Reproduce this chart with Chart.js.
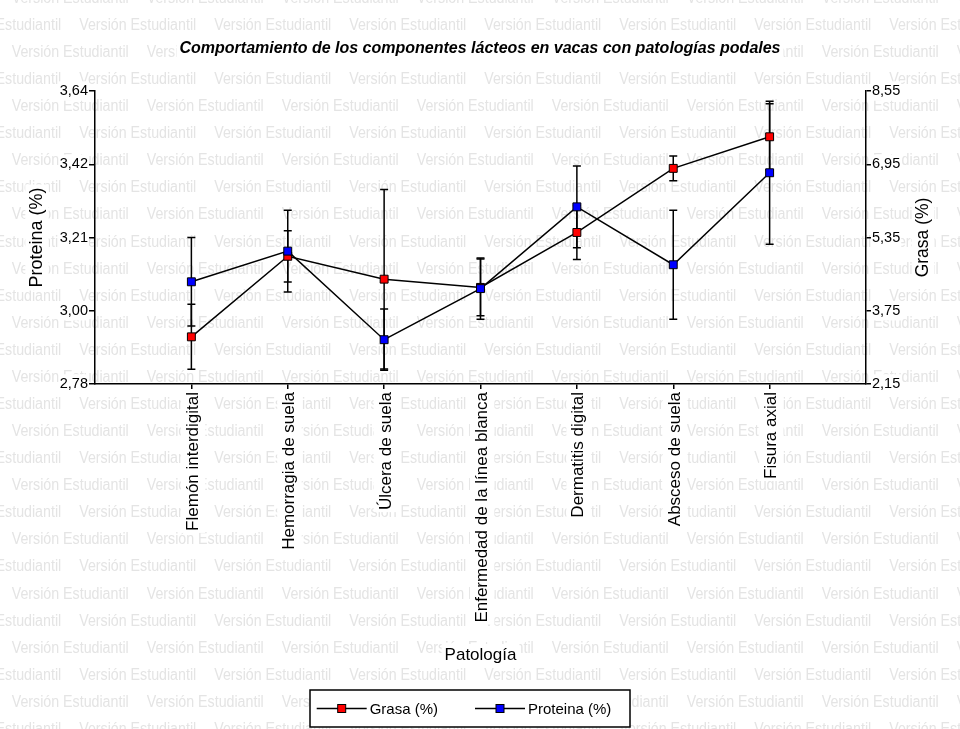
<!DOCTYPE html>
<html lang="es">
<head>
<meta charset="utf-8">
<title>Componentes lácteos en vacas con patologías podales</title>
<script src="https://cdn.jsdelivr.net/npm/chart.js@4.4.1/dist/chart.umd.min.js"></script>
<style>
  html, body { margin: 0; padding: 0; background: #fff; }
  #wrap { width: 960px; height: 729px; position: relative; }
</style>
</head>
<body>
<div id="wrap"><canvas id="chart"></canvas></div>
<script>
// Pathologies on the x axis
const categories = [
  'Flemón interdigital',
  'Hemorragia de suela',
  'Úlcera de suela',
  'Enfermedad de la línea blanca',
  'Dermatitis digital',
  'Absceso de suela',
  'Fisura axial'
];

// Milk fat (%) – mean and error, right axis
const grasa      = [3.18, 4.94, 4.44, 4.26, 5.46, 6.86, 7.55];
const grasaError = [0.71, 0.56, 1.96, 0.62, 0.59, 0.27, 0.72];

// Milk protein (%) – mean and error, left axis
const proteina      = [3.08, 3.17, 2.91, 3.06, 3.30, 3.13, 3.40];
const proteinaError = [0.13, 0.12, 0.09, 0.09, 0.12, 0.16, 0.21];

// Axis tick labels (evenly spaced between first and last)
const proteinaTicks = ['2,78', '3,00', '3,21', '3,42', '3,64'];
const grasaTicks    = ['2,15', '3,75', '5,35', '6,95', '8,55'];

const FONT = '"Liberation Sans", Arial, Helvetica, sans-serif';

const num = s => parseFloat(s.replace(',', '.'));
function evenTicks(labels) {
  const lo = num(labels[0]), hi = num(labels[labels.length - 1]);
  const n = labels.length - 1;
  return labels.map((_, i) => lo + (hi - lo) * i / n);
}
const proteinaTickValues = evenTicks(proteinaTicks);
const grasaTickValues = evenTicks(grasaTicks);

// Background "Versión Estudiantil" pattern plus white boxes behind captions
const backgroundPlugin = {
  id: 'backgroundPattern',
  beforeDraw(chart) {
    const { ctx, width, height, chartArea } = chart;
    ctx.save();
    ctx.fillStyle = '#fff';
    ctx.fillRect(0, 0, width, height);

    // narrow light-grey repeated text
    const text = 'Versión Estudiantil';
    ctx.font = '16px ' + FONT;
    const squeeze = 117 / ctx.measureText(text).width;
    ctx.fillStyle = '#e4e4e4';
    ctx.textBaseline = 'middle';
    ctx.textAlign = 'left';
    const rowGap = 27.08, colGap = 135;
    for (let k = -4; k <= 24; k++) {
      const y = 106.7 + rowGap * k;
      const shift = (Math.abs(k) % 2 === 0) ? 11.7 : 11.7 - colGap / 2;
      for (let m = -1; m <= 8; m++) {
        ctx.save();
        ctx.translate(shift + colGap * m, y);
        ctx.scale(squeeze, 1);
        ctx.fillText(text, 0, 0);
        ctx.restore();
      }
    }

    // white backdrop behind the chart title
    const tb = chart.titleBlock;
    if (tb && tb.options.display) {
      const f = Chart.helpers.toFont(tb.options.font);
      ctx.font = f.string;
      const w = ctx.measureText(tb.options.text).width;
      const cx = (tb.left + tb.right) / 2;
      const cy = tb.top + tb.options.padding.top + f.lineHeight / 2;
      ctx.fillStyle = '#fff';
      ctx.fillRect(cx - w / 2 - 3, cy - f.size / 2 - 3, w + 6, f.size + 6);
    }

    // axis captions
    const caption = (txt, x, y, rot, size) => {
      ctx.save();
      ctx.translate(x, y);
      ctx.rotate(rot);
      ctx.font = size + 'px ' + FONT;
      const w = ctx.measureText(txt).width;
      ctx.fillStyle = '#fff';
      ctx.fillRect(-w / 2 - 3, -size * 0.65, w + 6, size * 1.3);
      ctx.fillStyle = '#000';
      ctx.textAlign = 'center';
      ctx.textBaseline = 'middle';
      ctx.fillText(txt, 0, 0);
      ctx.restore();
    };
    const midY = (chartArea.top + chartArea.bottom) / 2;
    const midX = (chartArea.left + chartArea.right) / 2;
    caption('Proteina (%)', chartArea.left - 58, midY, -Math.PI / 2, 18);
    caption('Grasa (%)', chartArea.right + 57, midY, -Math.PI / 2, 17.5);
    caption('Patología', midX, chartArea.bottom + 271, 0, 17);
    ctx.restore();
  }
};

// Symmetric error bars with caps, drawn under the lines and markers
const errorBarPlugin = {
  id: 'errorBars',
  beforeDatasetsDraw(chart) {
    const { ctx } = chart;
    const xs = chart.scales.x;
    ctx.save();
    ctx.strokeStyle = '#000';
    ctx.lineWidth = 1.5;
    chart.data.datasets.forEach(ds => {
      const ys = chart.scales[ds.yAxisID];
      ds.data.forEach((pt, i) => {
        const x = xs.getPixelForValue(pt.x);
        const yt = ys.getPixelForValue(pt.y + ds.errors[i]);
        const yb = ys.getPixelForValue(pt.y - ds.errors[i]);
        ctx.beginPath();
        ctx.moveTo(x, yt); ctx.lineTo(x, yb);
        ctx.moveTo(x - 4, yt); ctx.lineTo(x + 4, yt);
        ctx.moveTo(x - 4, yb); ctx.lineTo(x + 4, yb);
        ctx.stroke();
      });
    });
    ctx.restore();
  }
};

// Boxed legend: line with square marker, then label
const legendPlugin = {
  id: 'boxLegend',
  afterDraw(chart) {
    const { ctx } = chart;
    const box = { x: 310, y: 690, w: 320, h: 37 };
    ctx.save();
    ctx.fillStyle = '#fff';
    ctx.fillRect(box.x, box.y, box.w, box.h);
    ctx.strokeStyle = '#000';
    ctx.lineWidth = 1.5;
    ctx.strokeRect(box.x, box.y, box.w, box.h);
    const cy = box.y + box.h / 2;
    const starts = [box.x + 6.7, box.x + 165];
    ctx.font = '15px ' + FONT;
    ctx.textBaseline = 'middle';
    ctx.textAlign = 'left';
    chart.data.datasets.forEach((ds, i) => {
      const x0 = starts[i];
      ctx.strokeStyle = '#000';
      ctx.lineWidth = 1.5;
      ctx.beginPath();
      ctx.moveTo(x0, cy); ctx.lineTo(x0 + 50, cy);
      ctx.stroke();
      ctx.fillStyle = ds.pointBackgroundColor;
      ctx.fillRect(x0 + 21, cy - 4, 8, 8);
      ctx.lineWidth = 1;
      ctx.strokeRect(x0 + 21, cy - 4, 8, 8);
      ctx.fillStyle = '#000';
      ctx.fillText(ds.label, x0 + 53, cy + 1);
    });
    ctx.restore();
  }
};

const axisLine = { display: true, color: '#000', width: 1.5 };
const tickMarks = len => ({ display: true, drawOnChartArea: false, drawTicks: true, tickLength: len, color: '#000', lineWidth: 1.5 });

const TITLE_SIZE = 16;
const titleLine = TITLE_SIZE * 1.2;
const titleCenter = 49;
const X_LABEL_SIZE = 17;

new Chart(document.getElementById('chart'), {
  type: 'line',
  data: {
    datasets: [
      {
        label: 'Grasa (%)',
        data: categories.map((_, i) => ({ x: i, y: grasa[i] })),
        errors: grasaError,
        yAxisID: 'y2',
        borderColor: '#000',
        borderWidth: 1.5,
        pointStyle: 'rect',
        pointRadius: 5.6,
        pointBackgroundColor: '#ff0000',
        pointBorderColor: '#000',
        pointBorderWidth: 1,
        fill: false,
        tension: 0,
        order: 1
      },
      {
        label: 'Proteina (%)',
        data: categories.map((_, i) => ({ x: i, y: proteina[i] })),
        errors: proteinaError,
        yAxisID: 'y',
        borderColor: '#000',
        borderWidth: 1.5,
        pointStyle: 'rect',
        pointRadius: 5.6,
        pointBackgroundColor: '#0000ff',
        pointBorderColor: '#000',
        pointBorderWidth: 1,
        fill: false,
        tension: 0,
        order: 0
      }
    ]
  },
  options: {
    responsive: true,
    maintainAspectRatio: false,
    animation: false,
    events: [],
    layout: { padding: 0 },
    plugins: {
      legend: { display: false },
      tooltip: { enabled: false },
      title: {
        display: true,
        text: 'Comportamiento de los componentes lácteos en vacas con patologías podales',
        color: '#000',
        font: { family: FONT, size: TITLE_SIZE, weight: 'bold', style: 'italic' },
        padding: { top: titleCenter - titleLine / 2, bottom: 91 - (titleCenter - titleLine / 2) - titleLine }
      }
    },
    scales: {
      x: {
        type: 'linear',
        min: -1,
        max: categories.length,
        afterBuildTicks: s => { s.ticks = categories.map((_, i) => ({ value: i })); },
        afterFit: s => { s.height = 729 - 384; },
        border: axisLine,
        grid: tickMarks(5),
        ticks: {
          autoSkip: false,
          minRotation: 90,
          maxRotation: 90,
          padding: 3,
          labelOffset: -X_LABEL_SIZE / 2,
          color: '#000',
          font: { family: FONT, size: X_LABEL_SIZE },
          callback: v => categories[v],
          showLabelBackdrop: true,
          backdropColor: '#fff',
          backdropPadding: 2
        }
      },
      y: {
        type: 'linear',
        position: 'left',
        min: proteinaTickValues[0],
        max: proteinaTickValues[proteinaTickValues.length - 1],
        afterBuildTicks: s => { s.ticks = proteinaTickValues.map(v => ({ value: v })); },
        afterFit: s => { s.width = 95; },
        border: axisLine,
        grid: tickMarks(6),
        ticks: {
          padding: 1,
          color: '#000',
          font: { family: FONT, size: 14.5 },
          callback: (v, i) => proteinaTicks[i],
          showLabelBackdrop: true,
          backdropColor: '#fff',
          backdropPadding: 1
        }
      },
      y2: {
        type: 'linear',
        position: 'right',
        min: grasaTickValues[0],
        max: grasaTickValues[grasaTickValues.length - 1],
        afterBuildTicks: s => { s.ticks = grasaTickValues.map(v => ({ value: v })); },
        afterFit: s => { s.width = 94; },
        border: axisLine,
        grid: tickMarks(5),
        ticks: {
          padding: 1,
          color: '#000',
          font: { family: FONT, size: 14.5 },
          callback: (v, i) => grasaTicks[i],
          showLabelBackdrop: true,
          backdropColor: '#fff',
          backdropPadding: 1
        }
      }
    }
  },
  plugins: [backgroundPlugin, errorBarPlugin, legendPlugin]
});
</script>
</body>
</html>
